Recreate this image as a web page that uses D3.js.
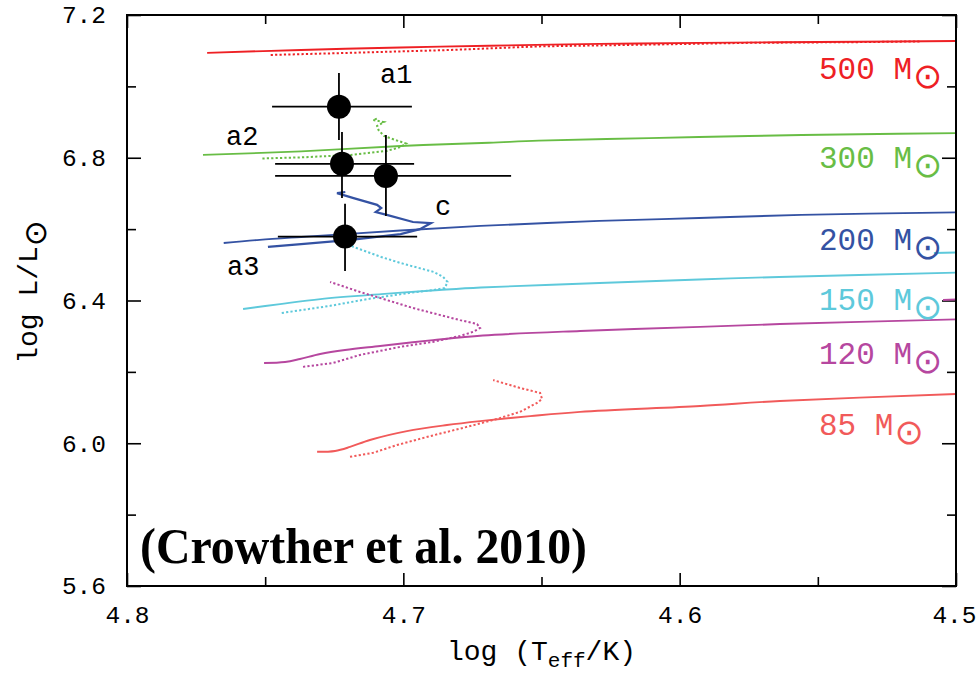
<!DOCTYPE html>
<html>
<head>
<meta charset="utf-8">
<script src="https://cdn.jsdelivr.net/npm/d3@7"></script>
<style>
  body { margin: 0; background: #fff; }
  text { font-family: "Liberation Mono", monospace; }
</style>
</head>
<body>
<script>
//Size of the picture and of the frame
var w = 977, h = 674;
var margin = {left: 127, right: 21, top: 15, bottom: 88};

//Evolution tracks, [log Teff, log L] -- solid (non rotating) and dotted (rotating)
var track500 = [[4.771,7.094],[4.737,7.102],[4.701,7.109],[4.669,7.114],[4.629,7.119],[4.593,7.122],[4.535,7.125],[4.500,7.127]];
var track500rot = [[4.748,7.088],[4.719,7.094],[4.683,7.102],[4.651,7.112],[4.611,7.117],[4.575,7.122],[4.535,7.124],[4.513,7.126]];

var track300 = [[4.7725,6.808],[4.737,6.818],[4.701,6.833],[4.669,6.842],[4.651,6.848],[4.611,6.855],[4.575,6.861],[4.535,6.866],[4.500,6.869]];
var track300rot = [[4.751,6.798],[4.737,6.801],[4.719,6.808],[4.706,6.819],[4.701,6.830],[4.699,6.840],[4.703,6.850],[4.707,6.861],[4.709,6.878],[4.7095,6.889],[4.707,6.900],[4.711,6.906],[4.709,6.911]];

var track200 = [[4.765,6.561],[4.752,6.570],[4.737,6.578],[4.721,6.586],[4.701,6.596],[4.672,6.609],[4.629,6.623],[4.593,6.631],[4.556,6.640],[4.500,6.647]];
var track200rot = [[4.749,6.550],[4.737,6.558],[4.719,6.570],[4.701,6.586],[4.694,6.600],[4.690,6.617],[4.6965,6.620],[4.706,6.640],[4.710,6.648],[4.708,6.659],[4.7095,6.668],[4.718,6.687],[4.724,6.701],[4.721,6.704]];

var track150 = [[4.758,6.376],[4.7446,6.390],[4.730,6.404],[4.708,6.418],[4.687,6.4295],[4.672,6.4365],[4.629,6.449],[4.593,6.459],[4.564,6.466],[4.500,6.478]];
var track150rot = [[4.744,6.365],[4.7265,6.385],[4.713,6.404],[4.698,6.421],[4.689,6.4295],[4.685,6.435],[4.684,6.452],[4.6856,6.466],[4.689,6.480],[4.701,6.505],[4.708,6.522],[4.718,6.550],[4.721,6.564]];
var tail150 = [[4.508,6.533],[4.500,6.5345]];

var track120 = [[4.7504,6.225],[4.7428,6.2277],[4.7374,6.2361],[4.7301,6.2501],[4.7211,6.2614],[4.7084,6.2726],[4.6893,6.289],[4.6712,6.302],[4.636,6.3146],[4.5926,6.326],[4.5637,6.334],[4.500,6.347]];
var track120rot = [[4.7363,6.214],[4.7254,6.225],[4.7157,6.2474],[4.7012,6.270],[4.6893,6.284],[4.6795,6.3006],[4.6748,6.312],[4.6722,6.323],[4.6733,6.334],[4.6795,6.345],[4.6965,6.379],[4.7084,6.407],[4.7157,6.424],[4.7265,6.452]];
var tail120 = [[4.5047,6.4015],[4.500,6.403]];

var track85 = [[4.7312,5.976],[4.7247,5.9784],[4.7193,5.9896],[4.7121,6.0092],[4.6987,6.034],[4.6842,6.051],[4.6722,6.062],[4.6541,6.076],[4.636,6.088],[4.5926,6.1045],[4.5637,6.1185],[4.500,6.138]];
var track85rot = [[4.7193,5.962],[4.711,5.973],[4.7023,5.995],[4.6903,6.020],[4.6784,6.043],[4.6661,6.068],[4.6578,6.088],[4.6516,6.113],[4.6498,6.124],[4.6505,6.141],[4.6578,6.155],[4.6675,6.177]];

var masses = ["500", "300", "200", "150", "120", "85"];

//R136 stars
var stars = ["a1", "a2", "a3", "c"];
var starLogT = [4.7233, 4.7222, 4.7211, 4.7063];
var starLogL = [6.943, 6.783, 6.579, 6.749];
var starTHot = [4.7475, 4.7464, 4.7454, 4.7464];
var starTCool = [4.6969, 4.6961, 4.6950, 4.6610];
var starLLo = [6.850, 6.687, 6.483, 6.637];
var starLHi = [7.0375, 6.872, 6.671, 6.864];

//Ticks
var xMajor = [4.8, 4.7, 4.6, 4.5];
var xMinor = [4.75, 4.65, 4.55];
var yMajor = [5.6, 6.0, 6.4, 6.8, 7.2];
var yMinor = [5.8, 6.2, 6.6, 7.0];

//Styles
var colors = ["#ee2024", "#68bd45", "#3452a3", "#5ec9db", "#b6479f", "#f15a5a"];
var massLabelY = [79, 168, 250, 310, 364, 435];
var starLabelOffset = [[41, -24], [-116, -19], [-118, 38], [49, 39]];

var iw = w - margin.left - margin.right;
var ih = h - margin.top - margin.bottom;

var x = d3.scaleLinear().domain([4.8, 4.5]).range([0, iw]);
var y = d3.scaleLinear().domain([5.6, 7.2]).range([ih, 0]);

var svg = d3.select("body").append("svg")
    .attr("width", w)
    .attr("height", h);

svg.append("defs").append("clipPath").attr("id", "clip")
    .append("rect").attr("width", iw).attr("height", ih);

var g = svg.append("g")
    .attr("transform", "translate(" + margin.left + "," + margin.top + ")");

//Axes (ticks point inwards on all four sides)
function styleAxis(sel) {
    sel.select(".domain").remove();
    sel.selectAll(".tick line").attr("stroke", "#000").attr("stroke-width", 1.6);
    sel.selectAll("text").attr("fill", "#000").style("font-size", "24.5px")
        .style("font-family", "Liberation Mono, monospace");
}

var xAxisG = g.append("g").attr("transform", "translate(0," + ih + ")")
    .call(d3.axisBottom(x).tickValues(xMajor).tickSize(-13).tickFormat(d3.format(".1f")))
    .call(styleAxis);
xAxisG.selectAll("text").attr("y", 37).attr("dy", 0);
//last label would run off the page: keep it inside like the reference
xAxisG.selectAll("text").filter(function(d) { return d == 4.5; })
    .attr("text-anchor", "end").attr("x", 20);

g.append("g").attr("transform", "translate(0," + ih + ")")
    .call(d3.axisBottom(x).tickValues(xMinor).tickSize(-9).tickFormat(""))
    .call(styleAxis);
g.append("g")
    .call(d3.axisTop(x).tickValues(xMajor).tickSize(-13).tickFormat(""))
    .call(styleAxis);
g.append("g")
    .call(d3.axisTop(x).tickValues(xMinor).tickSize(-9).tickFormat(""))
    .call(styleAxis);

g.append("g")
    .call(d3.axisLeft(y).tickValues(yMajor).tickSize(-14).tickPadding(21).tickFormat(d3.format(".1f")))
    .call(styleAxis);
g.append("g")
    .call(d3.axisLeft(y).tickValues(yMinor).tickSize(-9).tickFormat(""))
    .call(styleAxis);
g.append("g").attr("transform", "translate(" + iw + ",0)")
    .call(d3.axisRight(y).tickValues(yMajor).tickSize(-14).tickFormat(""))
    .call(styleAxis);
g.append("g").attr("transform", "translate(" + iw + ",0)")
    .call(d3.axisRight(y).tickValues(yMinor).tickSize(-9).tickFormat(""))
    .call(styleAxis);

//Tracks
var solidTracks = [track500, track300, track200, track150, track120, track85];
var rotTracks = [track500rot, track300rot, track200rot, track150rot, track120rot, track85rot];

var smooth = d3.line()
    .x(function(d) { return x(d[0]); })
    .y(function(d) { return y(d[1]); })
    .curve(d3.curveCatmullRom.alpha(0.5));
var plain = d3.line()
    .x(function(d) { return x(d[0]); })
    .y(function(d) { return y(d[1]); });

var tracks = g.append("g").attr("clip-path", "url(#clip)");

tracks.selectAll("path.solid")
    .data(solidTracks)
    .enter()
    .append("path")
    .attr("class", "solid")
    .attr("d", smooth)
    .attr("fill", "none")
    .attr("stroke", function(d, i) { return colors[i]; })
    .attr("stroke-width", 1.9);

tracks.selectAll("path.rot")
    .data(rotTracks)
    .enter()
    .append("path")
    .attr("class", "rot")
    .attr("d", plain)
    .attr("fill", "none")
    .attr("stroke", function(d, i) { return colors[i]; })
    .attr("stroke-width", function(d, i) { return i == 2 ? 2.2 : 2; })
    .attr("stroke-dasharray", function(d, i) { return i == 2 ? null : "2.2,2.2"; });

tracks.append("path").datum(tail150).attr("d", plain)
    .attr("fill", "none").attr("stroke", colors[3]).attr("stroke-width", 1.9);
tracks.append("path").datum(tail120).attr("d", plain)
    .attr("fill", "none").attr("stroke", colors[4]).attr("stroke-width", 1.9);

//Mass labels
var ml = svg.append("g").selectAll("text")
    .data(masses)
    .enter()
    .append("text")
    .attr("x", 819)
    .attr("y", function(d, i) { return massLabelY[i]; })
    .attr("fill", function(d, i) { return colors[i]; })
    .style("font-size", "31px");
ml.append("tspan").text(function(d) { return d + " M"; });
ml.append("tspan")
    .attr("dy", 9)
    .attr("dx", 1)
    .style("font-family", "DejaVu Sans")
    .style("font-size", "35px")
    .text("\u2299");

//Stars with error bars
var sg = g.append("g");
stars.forEach(function(s, i) {
    sg.append("line")
        .attr("x1", x(starTHot[i])).attr("x2", x(starTCool[i]))
        .attr("y1", y(starLogL[i])).attr("y2", y(starLogL[i]))
        .attr("stroke", "#000").attr("stroke-width", 1.8);
    sg.append("line")
        .attr("x1", x(starLogT[i])).attr("x2", x(starLogT[i]))
        .attr("y1", y(starLLo[i])).attr("y2", y(starLHi[i]))
        .attr("stroke", "#000").attr("stroke-width", 1.8);
});
sg.selectAll("circle")
    .data(stars)
    .enter()
    .append("circle")
    .attr("cx", function(d, i) { return x(starLogT[i]); })
    .attr("cy", function(d, i) { return y(starLogL[i]); })
    .attr("r", 12)
    .attr("fill", "#000");
sg.selectAll("text")
    .data(stars)
    .enter()
    .append("text")
    .attr("x", function(d, i) { return x(starLogT[i]) + starLabelOffset[i][0]; })
    .attr("y", function(d, i) { return y(starLogL[i]) + starLabelOffset[i][1]; })
    .style("font-size", "27px")
    .text(function(d) { return d; });

//Frame
g.append("rect")
    .attr("width", iw).attr("height", ih)
    .attr("fill", "none").attr("stroke", "#000").attr("stroke-width", 2);

//Axis titles
var xt = svg.append("text")
    .attr("x", margin.left + iw / 2)
    .attr("y", 660)
    .attr("text-anchor", "middle")
    .style("font-size", "28px");
xt.append("tspan").text("log (T");
xt.append("tspan").attr("dy", 7).style("font-size", "21px").text("eff");
xt.append("tspan").attr("dy", -7).text("/K)");

var yt = svg.append("text")
    .attr("transform", "translate(37,292) rotate(-90)")
    .attr("text-anchor", "middle")
    .style("font-size", "28px");
yt.append("tspan").text("log L/L");
yt.append("tspan").attr("dy", 9)
    .style("font-family", "DejaVu Sans").style("font-size", "31px")
    .text("\u2299");

//Citation
svg.append("text")
    .attr("x", 140)
    .attr("y", 563)
    .attr("textLength", 447)
    .attr("lengthAdjust", "spacingAndGlyphs")
    .style("font-family", "Liberation Serif, serif")
    .style("font-weight", "bold")
    .style("font-size", "50px")
    .text("(Crowther et al. 2010)");
</script>
</body>
</html>
